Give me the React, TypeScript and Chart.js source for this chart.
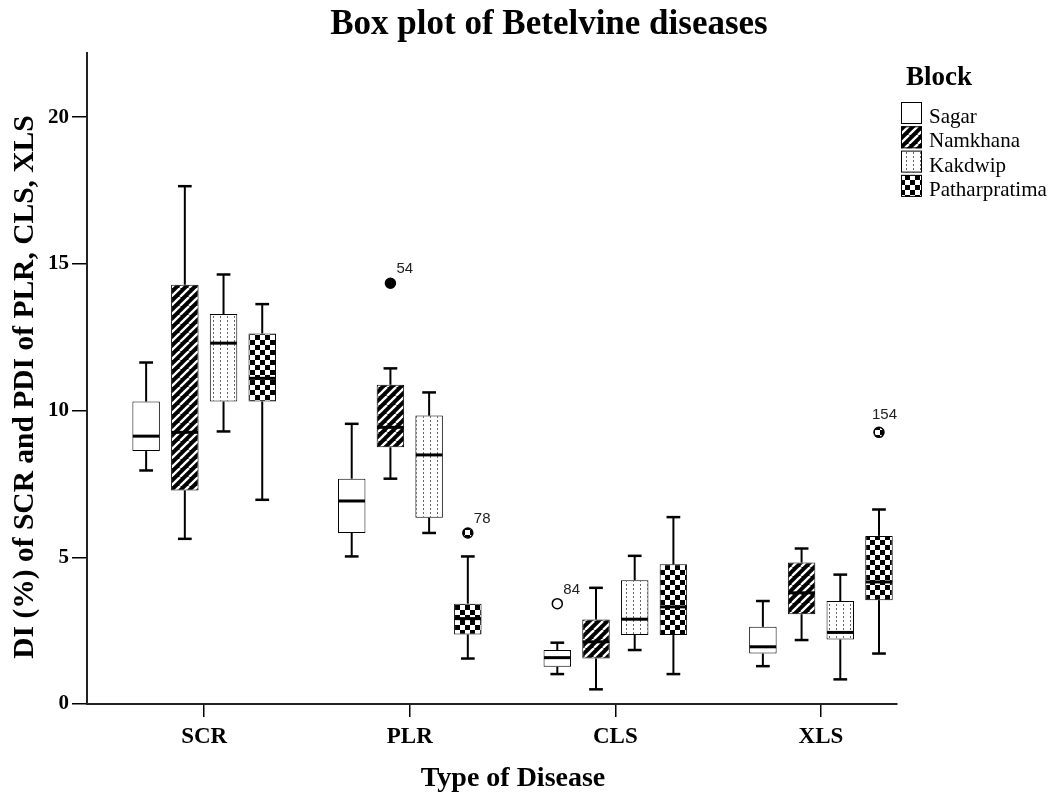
import React, { useEffect, useRef } from 'react';
import { Chart, registerables } from 'chart.js';

Chart.register(...registerables);

// ---------- data ----------
const categories = ['SCR', 'PLR', 'CLS', 'XLS'];
const blocks = ['Sagar', 'Namkhana', 'Kakdwip', 'Patharpratima'];
// [lower whisker, Q1, median, Q3, upper whisker] for SCR, PLR, CLS, XLS
const sagarStats = [
  [7.96, 8.62, 9.13, 10.31, 11.64],
  [5.03, 5.83, 6.92, 7.68, 9.55],
  [1.02, 1.27, 1.58, 1.84, 2.09],
  [1.29, 1.72, 1.95, 2.63, 3.51],
];
const namkhanaStats = [
  [5.63, 7.28, 9.26, 14.29, 17.65],
  [7.68, 8.75, 9.43, 10.88, 11.44],
  [0.5, 1.55, 2.12, 2.88, 3.96],
  [2.18, 3.06, 3.79, 4.82, 5.3],
];
const kakdwipStats = [
  [9.29, 10.31, 12.3, 13.29, 14.64],
  [5.83, 6.35, 8.49, 9.83, 10.62],
  [1.84, 2.35, 2.89, 4.22, 5.05],
  [0.84, 2.2, 2.44, 3.51, 4.41],
];
const patharpratimaStats = [
  [6.96, 10.31, 11.1, 12.63, 13.63],
  [1.55, 2.37, 2.91, 3.42, 5.03],
  [1.02, 2.35, 3.31, 4.76, 6.37],
  [1.72, 3.54, 4.16, 5.73, 6.63],
];
const yTicks = [0, 5, 10, 15, 20];
const outlierBlocks = ['Namkhana', 'Patharpratima', 'Sagar', 'Patharpratima'];
const outlierCategories = ['PLR', 'PLR', 'CLS', 'XLS'];
const outlierValues = [14.34, 5.83, 3.42, 9.26];
const outlierLabels = ['54', '78', '84', '154'];

const allStats = [sagarStats, namkhanaStats, kakdwipStats, patharpratimaStats];

const SERIF = '"Liberation Serif", "Times New Roman", serif';
const SANS = '"Liberation Sans", Arial, sans-serif';

function makeTile(w: number, h: number, draw: (g: CanvasRenderingContext2D) => void) {
  const c = document.createElement('canvas');
  c.width = w;
  c.height = h;
  const g = c.getContext('2d')!;
  draw(g);
  return c;
}

function makePatterns(ctx: CanvasRenderingContext2D): (string | CanvasPattern)[] {
  const stripes = makeTile(9, 9, (g) => {
    g.fillStyle = '#000';
    g.fillRect(0, 0, 9, 9);
    g.strokeStyle = '#fff';
    g.lineWidth = 2.3;
    for (const o of [-9, 0, 9]) {
      g.beginPath();
      g.moveTo(o, 9);
      g.lineTo(o + 9, 0);
      g.stroke();
    }
  });
  const dots = makeTile(7, 4, (g) => {
    g.fillStyle = '#fff';
    g.fillRect(0, 0, 7, 4);
    g.fillStyle = '#666';
    g.fillRect(3, 0, 1, 2);
  });
  const checker = makeTile(10, 10, (g) => {
    g.fillStyle = '#fff';
    g.fillRect(0, 0, 10, 10);
    g.fillStyle = '#000';
    g.fillRect(0, 0, 5, 5);
    g.fillRect(5, 5, 5, 5);
  });
  return [
    '#ffffff',
    ctx.createPattern(stripes, 'repeat')!,
    ctx.createPattern(dots, 'repeat')!,
    ctx.createPattern(checker, 'repeat')!,
  ];
}

export default function App() {
  const canvasRef = useRef<HTMLCanvasElement | null>(null);

  useEffect(() => {
    document.body.style.margin = '0';
    const canvas = canvasRef.current!;
    const ctx0 = canvas.getContext('2d')!;
    const patterns = makePatterns(ctx0);
    const outlierFills = ['#ffffff', '#000000', patterns[2], patterns[3]];

    const line = (c: CanvasRenderingContext2D, x1: number, y1: number, x2: number, y2: number) => {
      c.beginPath();
      c.moveTo(x1, y1);
      c.lineTo(x2, y2);
      c.stroke();
    };

    const boxPlugin = {
      id: 'boxDetails',
      afterDatasetsDraw(chart: any) {
        const c: CanvasRenderingContext2D = chart.ctx;
        const ys = chart.scales.y;
        const area = chart.chartArea;
        c.save();
        c.strokeStyle = '#000';
        allStats.forEach((bs, i) => {
          const meta = chart.getDatasetMeta(i);
          bs.forEach((s, k) => {
            const el = meta.data[k];
            if (!el) return;
            const { x, width } = el.getProps(['x', 'width'], true);
            const [lo, q1, med, q3, hi] = s;
            const pLo = ys.getPixelForValue(lo);
            const pQ1 = ys.getPixelForValue(q1);
            const pMed = ys.getPixelForValue(med);
            const pQ3 = ys.getPixelForValue(q3);
            const pHi = ys.getPixelForValue(hi);
            c.lineWidth = 2;
            line(c, x, pQ3, x, pHi);
            line(c, x, pQ1, x, pLo);
            c.lineWidth = 2.5;
            line(c, x - width / 4, pHi, x + width / 4, pHi);
            line(c, x - width / 4, pLo, x + width / 4, pLo);
            c.lineWidth = 3;
            line(c, x - width / 2 + 0.5, pMed, x + width / 2 - 0.5, pMed);
          });
        });
        // outliers
        outlierValues.forEach((v, n) => {
          const i = blocks.indexOf(outlierBlocks[n]);
          const k = categories.indexOf(outlierCategories[n]);
          const el = chart.getDatasetMeta(i).data[k];
          if (!el) return;
          const { x } = el.getProps(['x'], true);
          const py = ys.getPixelForValue(v);
          c.beginPath();
          c.arc(x, py, 5, 0, Math.PI * 2);
          c.fillStyle = outlierFills[i] as any;
          c.fill();
          c.lineWidth = 1.5;
          c.strokeStyle = '#000';
          c.stroke();
          c.font = `15px ${SANS}`;
          c.fillStyle = '#222';
          c.textAlign = 'left';
          c.textBaseline = 'alphabetic';
          const w = c.measureText(outlierLabels[n]).width;
          let lx = x + 6;
          let ly = py - 10;
          if (lx + w > area.right) {
            lx = area.right - w;
            ly = py - 13;
          }
          c.fillText(outlierLabels[n], lx, ly);
        });
        c.restore();
      },
      afterDraw(chart: any) {
        const c: CanvasRenderingContext2D = chart.ctx;
        c.save();
        c.fillStyle = '#000';
        // x-axis title
        c.font = `bold 28px ${SERIF}`;
        c.textAlign = 'center';
        c.textBaseline = 'alphabetic';
        c.fillText('Type of Disease', 513, 786);
        // y-axis title
        c.save();
        c.translate(33, 387);
        c.rotate(-Math.PI / 2);
        c.font = `bold 29.5px ${SERIF}`;
        c.textAlign = 'center';
        c.fillText('DI (%) of SCR and PDI of PLR, CLS, XLS', 0, 0);
        c.restore();
        // legend
        c.font = `bold 27px ${SERIF}`;
        c.textAlign = 'left';
        c.fillText('Block', 906, 85);
        c.font = `21px ${SERIF}`;
        blocks.forEach((b, i) => {
          const top = 102 + i * 24.3;
          c.fillStyle = patterns[i] as any;
          c.fillRect(901, top, 21, 22);
          c.strokeStyle = '#000';
          c.lineWidth = 1;
          c.strokeRect(901.5, top + 0.5, 20, 21);
          c.fillStyle = '#000';
          c.fillText(b, 929, top + 21);
        });
        c.restore();
      },
    };

    const chart = new Chart(ctx0, {
      type: 'bar',
      data: {
        datasets: blocks.map((b, i) => ({
          label: b,
          data: categories.map((_, k) => ({ x: k, y: [allStats[i][k][1], allStats[i][k][3]] })),
          backgroundColor: patterns[i] as any,
          borderColor: '#000',
          borderWidth: 1,
          borderSkipped: false,
          categoryPercentage: 0.753,
          barPercentage: 0.71,
        })) as any,
      },
      options: {
        responsive: false,
        animation: false,
        events: [],
        layout: { padding: { left: 40, right: 0, top: 0, bottom: 0 } },
        plugins: {
          legend: { display: false },
          tooltip: { enabled: false },
          title: {
            display: true,
            text: 'Box plot of Betelvine diseases',
            color: '#000',
            font: { family: SERIF, size: 35, weight: 'bold', lineHeight: 1.2 },
            padding: { top: 4, bottom: 6.7 },
          },
        },
        scales: {
          x: {
            type: 'linear',
            min: -0.57,
            max: 3.37,
            offset: false,
            afterFit: (s: any) => {
              s.height = 91;
            },
            afterBuildTicks: (s: any) => {
              s.ticks = categories.map((_, k) => ({ value: k }));
            },
            ticks: {
              autoSkip: false,
              maxRotation: 0,
              padding: 6,
              color: '#000',
              font: { family: SERIF, size: 23, weight: 'bold' },
              callback: (v: any) => categories[Math.round(Number(v))] ?? '',
            },
            grid: { display: true, drawOnChartArea: false, drawTicks: true, tickLength: 13, color: '#000', lineWidth: 1.5, offset: false },
            border: { display: true, color: '#222', width: 2 },
          },
          y: {
            type: 'linear',
            min: 0,
            max: 22.2,
            afterFit: (s: any) => {
              s.width = 47;
            },
            afterBuildTicks: (s: any) => {
              s.ticks = yTicks.map((v) => ({ value: v }));
            },
            ticks: {
              padding: 3,
              color: '#000',
              font: { family: SERIF, size: 21, weight: 'bold' },
            },
            grid: { display: true, drawOnChartArea: false, drawTicks: true, tickLength: 15, color: '#000', lineWidth: 1.5 },
            border: { display: true, color: '#222', width: 2 },
          },
          y2: {
            type: 'linear',
            position: 'right',
            display: true,
            afterFit: (s: any) => {
              s.width = 161;
            },
            ticks: { display: false },
            grid: { display: false },
            border: { display: false },
          },
        },
      } as any,
      plugins: [boxPlugin as any],
    });

    return () => {
      chart.destroy();
    };
  }, []);

  return <canvas ref={canvasRef} width={1058} height={795} style={{ display: 'block' }} />;
}
